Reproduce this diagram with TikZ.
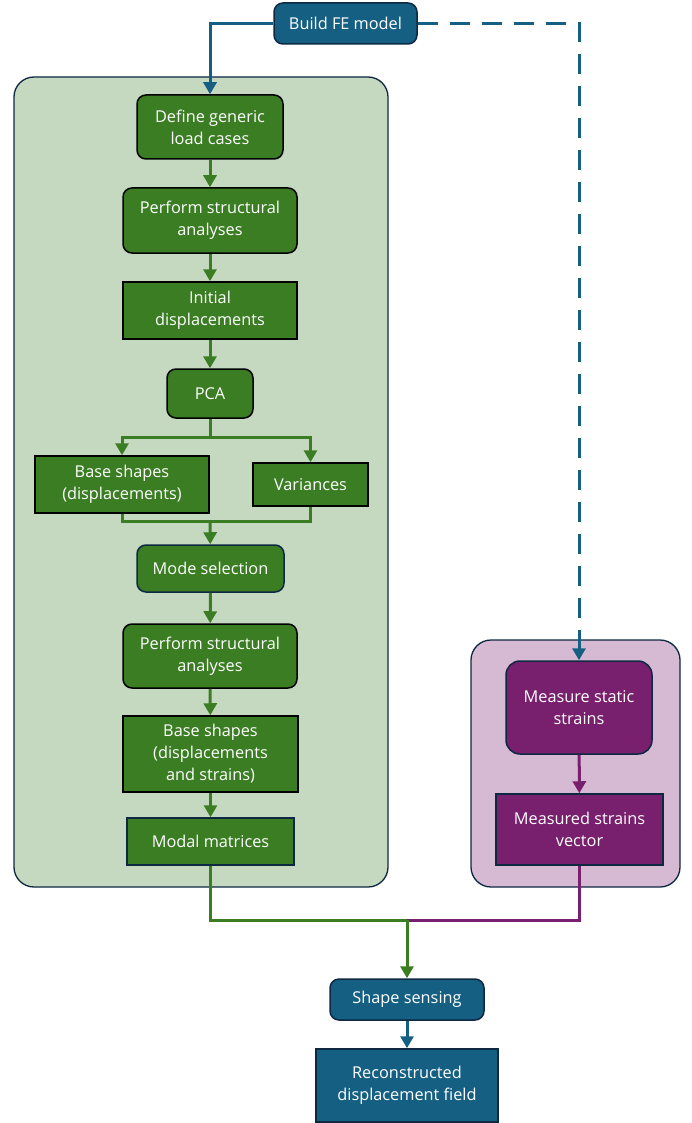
\documentclass[tikz,border=0pt]{standalone}
\usepackage{fontspec}
\setmainfont{Open Sans}
\usetikzlibrary{arrows.meta}
\definecolor{stepgreen}{HTML}{3B7D23}
\definecolor{panelgreen}{HTML}{C5D9C0}
\definecolor{steppurple}{HTML}{78206E}
\definecolor{panelpurple}{HTML}{D6B9D3}
\definecolor{stepblue}{HTML}{156082}
\definecolor{navy}{HTML}{0E2841}
\begin{document}
\begin{tikzpicture}[x=1pt,y=-1pt,font=\fontsize{16.3}{22}\selectfont,
    stepbox/.style={draw=black,line width=1.5pt,text=white,align=center,inner sep=0pt},
    gbox/.style={stepbox,fill=stepgreen},
    pbox/.style={stepbox,fill=steppurple,draw=navy},
    bbox/.style={stepbox,fill=stepblue,draw=navy},
    round/.style={rounded corners=9pt},
    panel/.style={draw=navy,line width=1.3pt,rounded corners=20pt,inner sep=0pt},
    gline/.style={draw=stepgreen,line width=3pt},
    garrow/.style={gline,-{Triangle[width=13pt,length=12pt]}},
    pline/.style={draw=steppurple,line width=3pt},
    parrow/.style={pline,-{Triangle[width=13pt,length=12pt]}},
    barrow/.style={draw=stepblue,line width=3pt,-{Triangle[width=13pt,length=12pt]}}]
  \useasboundingbox (0,0) rectangle (691,1123);
  \node[panel,fill=panelgreen,minimum width=374pt,minimum height=810pt] (greenpanel) at (201,482) {};
  \node[panel,fill=panelpurple,minimum width=209pt,minimum height=247pt] (purplepanel) at (575.5,763.5) {};

  \node[bbox,round,minimum width=143pt,minimum height=41pt] (build) at (345.5,23.5) {Build FE model};
  \node[gbox,round,minimum width=146pt,minimum height=64pt] (define) at (210,127) {Define generic\\load cases};
  \node[gbox,round,minimum width=174pt,minimum height=65pt] (analyses) at (210,220.5) {Perform structural\\analyses};
  \node[gbox,minimum width=174pt,minimum height=57pt] (initial) at (210,310.5) {Initial\\displacements};
  \node[gbox,round,minimum width=86pt,minimum height=49pt] (pca) at (210,393.5) {PCA};
  \node[gbox,minimum width=174pt,minimum height=57pt] (baseshapes) at (122,484.5) {Base shapes\\(displacements)};
  \node[gbox,minimum width=115pt,minimum height=43pt] (variances) at (310.5,484.5) {Variances};
  \node[gbox,round,draw=navy,minimum width=147pt,minimum height=47pt] (modesel) at (210.5,568.5) {Mode selection};
  \node[gbox,round,minimum width=174pt,minimum height=64pt] (analysestwo) at (210,656) {Perform structural\\analyses};
  \node[gbox,minimum width=175pt,minimum height=76pt] (basestrains) at (210.5,754) {Base shapes\\(displacements\\and strains)};
  \node[gbox,draw=navy,minimum width=167pt,minimum height=47pt] (modal) at (210.5,841.5) {Modal matrices};

  \node[pbox,round,rounded corners=14pt,minimum width=146pt,minimum height=93pt] (measure) at (579,707.5) {Measure static\\strains};
  \node[pbox,minimum width=167pt,minimum height=71pt] (strainvec) at (579.5,829.5) {Measured strains\\vector};

  \node[bbox,round,minimum width=154pt,minimum height=41pt] (sensing) at (407,999.5) {Shape sensing};
  \node[bbox,minimum width=182pt,minimum height=73pt] (field) at (407,1085.5) {Reconstructed\\displacement field};

  \coordinate (split) at (210,437);
  \coordinate (merge) at (210,521);
  \coordinate (join) at (407,920);

  \draw[barrow] (build.west) -| (define.north);
  \draw[barrow,dash pattern=on 20pt off 12pt] (build.east) -| (measure.north);
  \draw[garrow] (define) -- (analyses);
  \draw[garrow] (analyses) -- (initial);
  \draw[garrow] (initial) -- (pca);
  \draw[gline] (pca) -- (split);
  \draw[garrow] (split) -| (baseshapes.north);
  \draw[garrow] (split) -| (variances.north);
  \draw[gline] (baseshapes.south) |- (merge) -| (variances.south);
  \draw[garrow] (merge) -- (modesel);
  \draw[garrow] (modesel) -- (analysestwo);
  \draw[garrow] (analysestwo) -- (basestrains);
  \draw[garrow] (basestrains) -- (modal);
  \draw[parrow] (measure) -- (strainvec);
  \draw[pline] (strainvec.south) |- (join);
  \draw[gline] (modal.south) |- (join);
  \draw[garrow] (join) -- (sensing);
  \draw[barrow] (sensing) -- (field);
\end{tikzpicture}
\end{document}
